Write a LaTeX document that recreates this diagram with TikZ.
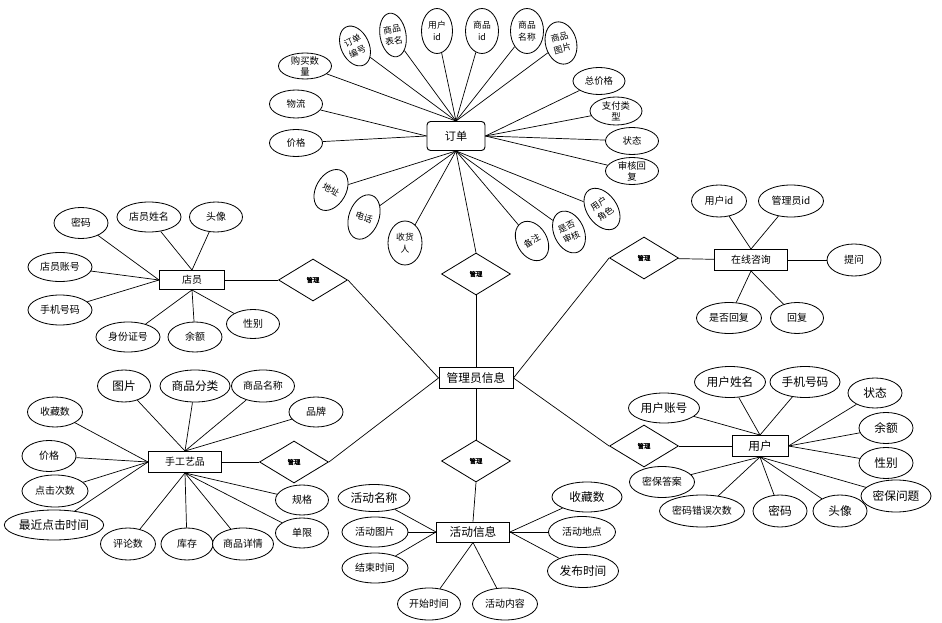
\documentclass[tikz,border=0pt]{standalone}
\usepackage{fontspec}
\setmainfont{Noto Sans CJK SC}
\newfontfamily\relfont[FakeBold=2]{Noto Sans CJK SC}
\usetikzlibrary{shapes.geometric}

\begin{document}
\begin{tikzpicture}[
    x=0.03cm, y=-0.03cm,
    attr/.style 2 args={ellipse, draw=black, line width=0.7pt, fill=white, inner sep=0pt, align=center, minimum width=#1*0.03cm, minimum height=#2*0.03cm, font=\fontsize{8.5}{10}\selectfont},
    small/.style={font=\fontsize{7.5}{10}\selectfont, inner sep=-2pt},
    mid/.style={font=\fontsize{8}{9.5}\selectfont, inner sep=-3pt},
    big/.style={font=\fontsize{10}{12}\selectfont},
    entity/.style 2 args={rectangle, draw=black, line width=0.8pt, fill=white, inner sep=0pt, minimum width=#1*0.03cm, minimum height=#2*0.03cm, font=\fontsize{8.5}{10}\selectfont},
    rel/.style={diamond, draw=black, line width=0.7pt, fill=white, inner sep=0pt, minimum width=2.07cm, minimum height=1.26cm, font=\relfont\fontsize{5.5}{6}\selectfont},
    link/.style={draw=black, line width=0.6pt},
]
\useasboundingbox (0,0) rectangle (942,623);

% Entities
\node[entity={58}{29}, rounded corners=3pt, font=\fontsize{9.5}{11}\selectfont] (order) at (456,136) {订单};
\node[entity={74}{21}, big] (admin) at (476,378) {管理员信息};
\node[entity={65}{19}] (clerk) at (192,280) {店员};
\node[entity={73}{21}] (consult) at (751,260) {在线咨询};
\node[entity={56}{21}, big] (user) at (760,446) {用户};
\node[entity={73}{21}] (craft) at (185,462) {手工艺品};
\node[entity={73}{20}, big] (act) at (473,532) {活动信息};

% Relations
\node[rel] (r1) at (476,274) {管理};
\node[rel] (r2) at (313,280) {管理};
\node[rel] (r3) at (294,462) {管理};
\node[rel] (r4) at (644,258) {管理};
\node[rel] (r5) at (644,446) {管理};
\node[rel] (r6) at (476,461) {管理};

% Order attributes
\node[attr={53}{26}, mid] (o1) at (305,66) {购买数\\量};
\node[attr={28}{42}, small, rotate=25] (o2) at (355,46) {订单\\编号};
\node[attr={26}{44}, small, rotate=10] (o3) at (393,35) {商品\\表名};
\node[attr={31}{45}, small] (o4) at (437,31) {用户\\id};
\node[attr={33}{45}, small] (o5) at (482,31) {商品\\id};
\node[attr={33}{45}, small] (o6) at (527,31) {商品\\名称};
\node[attr={31}{43}, small, rotate=15] (o7) at (561,43) {商品\\图片};
\node[attr={53}{28}, mid] (o8) at (296,104) {物流};
\node[attr={53}{27}, mid] (o9) at (296,143) {价格};
\node[attr={52}{27}, mid] (o10) at (599,81) {总价格};
\node[attr={52}{28}, mid] (o11) at (616,111) {支付类\\型};
\node[attr={53}{27}, mid] (o12) at (632,141) {状态};
\node[attr={53}{27}, mid] (o13) at (632,171) {审核回\\复};
\node[attr={30}{44}, small, rotate=-30] (o14) at (331,190) {地址};
\node[attr={30}{46}, small, rotate=-20] (o15) at (364,217) {电话};
\node[attr={34}{44}, small] (o16) at (405,243) {收货\\人};
\node[attr={30}{42}, small, rotate=30] (o17) at (532,241) {备注};
\node[attr={30}{44}, small, rotate=25] (o18) at (569,232) {是否\\审核};
\node[attr={30}{46}, small, rotate=35] (o19) at (602,209) {用户\\角色};

\foreach \a in {o1,o2,o3,o4,o5,o6,o7}
    \draw[link] (order.north) -- (\a);
\foreach \a in {o8,o9}
    \draw[link] (order.west) -- (\a);
\foreach \a in {o10,o11,o12,o13}
    \draw[link] (order.east) -- (\a);
\foreach \a in {o14,o15,o16,o17,o18,o19}
    \draw[link] (order.south) -- (\a);

% Clerk attributes
\node[attr={54}{31}] (c1) at (81,223) {密码};
\node[attr={64}{30}] (c2) at (149,217) {店员姓名};
\node[attr={53}{30}] (c3) at (216,217) {头像};
\node[attr={64}{29}] (c4) at (60,267) {店员账号};
\node[attr={64}{30}] (c5) at (60,310) {手机号码};
\node[attr={64}{30}] (c6) at (128,337) {身份证号};
\node[attr={54}{30}] (c7) at (195,337) {余额};
\node[attr={53}{29}] (c8) at (253,324) {性别};

\foreach \a in {c1,c4,c5}
    \draw[link] (clerk.west) -- (\a);
\foreach \a in {c2,c3}
    \draw[link] (clerk.north) -- (\a);
\foreach \a in {c6,c7,c8}
    \draw[link] (clerk.south) -- (\a);

% Consult attributes
\node[attr={55}{32}] (q1) at (719,201) {用户id};
\node[attr={65}{32}] (q2) at (791,201) {管理员id};
\node[attr={54}{32}] (q3) at (854,260) {提问};
\node[attr={65}{31}] (q4) at (729,318) {是否回复};
\node[attr={53}{31}] (q5) at (797,318) {回复};

\foreach \a in {q1,q2}
    \draw[link] (consult.north) -- (\a);
\draw[link] (consult.east) -- (q3);
\foreach \a in {q4,q5}
    \draw[link] (consult.south) -- (\a);

% User attributes
\node[attr={71}{30}, big] (u1) at (664,408) {用户账号};
\node[attr={71}{31}, big] (u2) at (730,382) {用户姓名};
\node[attr={70}{31}, big] (u3) at (805,382) {手机号码};
\node[attr={54}{30}, big] (u4) at (875,393) {状态};
\node[attr={54}{31}, big] (u5) at (886,428) {余额};
\node[attr={54}{31}, big] (u6) at (886,463) {性别};
\node[attr={54}{32}, big] (u8) at (840,511) {头像};
\node[attr={70}{32}, big] (u7) at (896,496) {密保问题};
\node[attr={54}{32}, big] (u9) at (780,511) {密码};
\node[attr={85}{32}] (u10) at (702,511) {密码错误次数};
\node[attr={65}{31}] (u11) at (662,482) {密保答案};

\foreach \a in {u1,u2,u3}
    \draw[link] (user.north) -- (\a);
\foreach \a in {u4,u5,u6}
    \draw[link] (user.east) -- (\a);
\foreach \a in {u7,u8,u9,u10,u11}
    \draw[link] (user.south) -- (\a);

% Craft attributes
\node[attr={53}{32}, big] (h1) at (124,386) {图片};
\node[attr={70}{32}, big] (h2) at (195,386) {商品分类};
\node[attr={63}{32}] (h3) at (263,386) {商品名称};
\node[attr={54}{30}] (h4) at (316,412) {品牌};
\node[attr={55}{30}] (h5) at (55,412) {收藏数};
\node[attr={54}{31}] (h6) at (49,456) {价格};
\node[attr={66}{32}] (h7) at (55,491) {点击次数};
\node[attr={95}{30}, big] (h8) at (54,525) {最近点击时间};
\node[attr={55}{32}] (h9) at (128,544) {评论数};
\node[attr={52}{32}] (h10) at (187,544) {库存};
\node[attr={61}{32}] (h11) at (243,544) {商品详情};
\node[attr={53}{30}] (h12) at (302,500) {规格};
\node[attr={53}{30}] (h13) at (302,533) {单限};

\foreach \a in {h1,h2,h3,h4}
    \draw[link] (craft.north) -- (\a);
\foreach \a in {h5,h6,h7,h8}
    \draw[link] (craft.west) -- (\a);
\foreach \a in {h9,h10,h11,h12,h13}
    \draw[link] (craft.south) -- (\a);

% Activity attributes
\node[attr={72}{27}, big] (a1) at (374,498) {活动名称};
\node[attr={66}{30}] (a2) at (375,532) {活动图片};
\node[attr={66}{30}] (a3) at (375,568) {结束时间};
\node[attr={63}{32}] (a4) at (429,604) {开始时间};
\node[attr={65}{32}] (a5) at (505,604) {活动内容};
\node[attr={70}{30}, big] (a6) at (587,497) {收藏数};
\node[attr={67}{31}] (a7) at (582,532) {活动地点};
\node[attr={71}{33}, big] (a8) at (583,571) {发布时间};

\foreach \a in {a1,a2,a3}
    \draw[link] (act.west) -- (\a);
\foreach \a in {a4,a5}
    \draw[link] (act.south) -- (\a);
\foreach \a in {a6,a7,a8}
    \draw[link] (act.east) -- (\a);

% Relation links
\draw[link] (order.south) -- (r1.north);
\draw[link] (r1) -- (admin);
\draw[link] (clerk) -- (r2);
\draw[link] (r2.east) -- (admin.west);
\draw[link] (craft) -- (r3);
\draw[link] (r3.east) -- (admin.west);
\draw[link] (r4) -- (consult);
\draw[link] (r4.west) -- (admin.east);
\draw[link] (r5) -- (user);
\draw[link] (r5.west) -- (admin.east);
\draw[link] (admin) -- (r6);
\draw[link] (r6.south) -- (act.north);

\end{tikzpicture}
\end{document}
